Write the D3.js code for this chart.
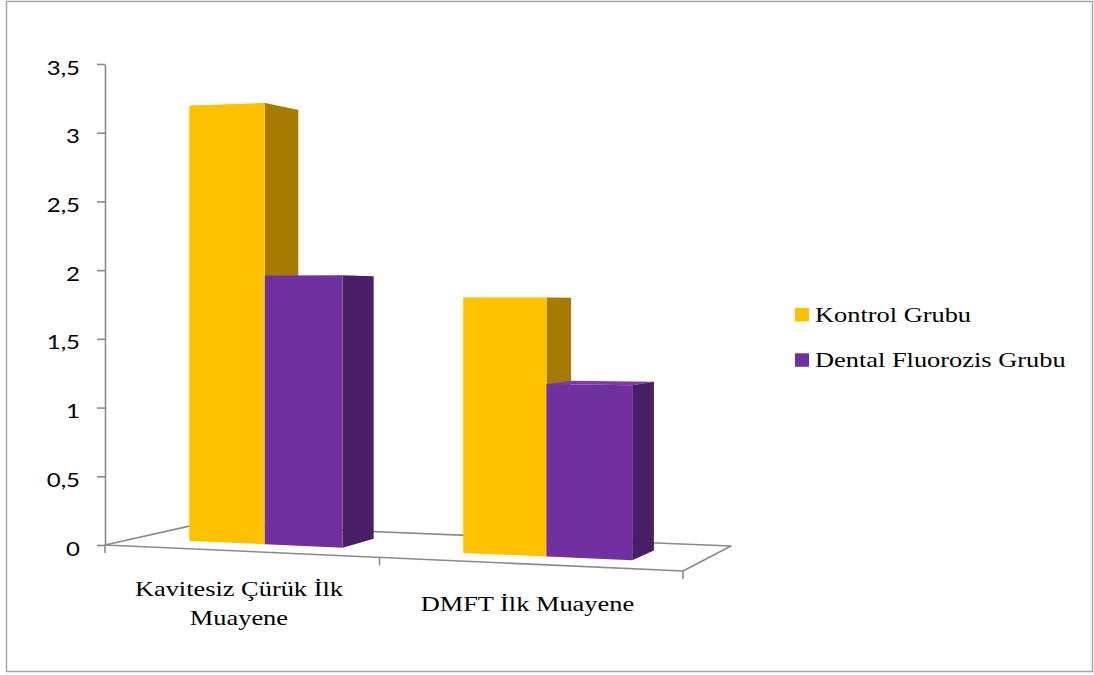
<!DOCTYPE html>
<html>
<head>
<meta charset="utf-8">
<script src="https://cdn.jsdelivr.net/npm/d3@7"></script>
<style>
  body { margin: 0; background: #ffffff; }
  svg { display: block; }
</style>
</head>
<body>
<svg id="chart" width="1094" height="675"></svg>
<script>
// ---- data ----
const categories = ["Kavitesiz Çürük İlk Muayene", "DMFT İlk Muayene"];
const categoryLines = [["Kavitesiz Çürük İlk", "Muayene"], ["DMFT İlk Muayene"]];
const seriesNames = ["Kontrol Grubu", "Dental Fluorozis Grubu"];
const kontrolValues = [3.22, 1.80];
const fluorozisValues = [1.96, 1.20];
const yTickValues = [0, 0.5, 1, 1.5, 2, 2.5, 3, 3.5];
const yTickLabels = ["0", "0,5", "1", "1,5", "2", "2,5", "3", "3,5"];

// ---- styling ----
const frontColors = ["#FFC000", "#7030A0"];
const sideColors = ["#A67C00", "#481F67"];
const topColors = ["#FFCB33", "#7B3AAD"];
const axisColor = "#8A8A8A";
const stretchX = 1.2;

// ---- perspective setup (two-point perspective, verticals stay vertical) ----
const HORIZON = 298;
const FL = [105, 545], FR = [683, 571], BR = [731, 546.04], BL = [197.04, 524.39];
const topFactor = (545 - 64) / (545 - HORIZON);
const barDepth = [0.295, 0.70];

function squareToQuad(p0, p1, p2, p3) {
  const dx1 = p1[0] - p2[0], dx2 = p3[0] - p2[0], dx3 = p0[0] - p1[0] + p2[0] - p3[0];
  const dy1 = p1[1] - p2[1], dy2 = p3[1] - p2[1], dy3 = p0[1] - p1[1] + p2[1] - p3[1];
  const den = dx1 * dy2 - dx2 * dy1;
  const g = (dx3 * dy2 - dx2 * dy3) / den, h = (dx1 * dy3 - dx3 * dy1) / den;
  const a = p1[0] - p0[0] + g * p1[0], b = p3[0] - p0[0] + h * p3[0], c = p0[0];
  const d = p1[1] - p0[1] + g * p1[1], e = p3[1] - p0[1] + h * p3[1], f = p0[1];
  return (u, w) => {
    const s = g * u + h * w + 1;
    return [(a * u + b * w + c) / s, (d * u + e * w + f) / s];
  };
}
const floorPt = squareToQuad(FL, FR, BR, BL);

const heightFrac = d3.scaleLinear().domain([0, 3.5]).range([0, topFactor]);
function project(u, w, v) {
  const [x, y] = floorPt(u, w);
  return [x, y - (y - HORIZON) * heightFrac(v)];
}

// category / series scales along the floor's width (0..1)
const x0 = d3.scaleBand().domain(categories).range([0, 1]).paddingInner(3 / 7).paddingOuter(1.5 / 7);
const x1 = d3.scaleBand().domain(seriesNames).range([0, x0.bandwidth()]);

const yAxisScale = d3.scaleLinear().domain([0, 3.5])
  .range([FL[1], FL[1] - (FL[1] - HORIZON) * topFactor]);

const svg = d3.select("#chart");
const poly = pts => "M" + pts.map(p => p[0].toFixed(2) + "," + p[1].toFixed(2)).join("L") + "Z";

// outer frame
svg.append("rect")
  .attr("x", 6.5).attr("y", 1.5).attr("width", 1086).attr("height", 670)
  .attr("fill", "#fff").attr("stroke", "#A6A6A6").attr("stroke-width", 1.5);

// floor
svg.append("path")
  .attr("d", poly([floorPt(0, 0), floorPt(1, 0), floorPt(1, 1), floorPt(0, 1)]))
  .attr("fill", "#fff").attr("stroke", axisColor).attr("stroke-width", 1.6)
  .attr("stroke-linejoin", "round");

// category axis tick marks along the front edge (category boundaries)
const boundaryU = [0].concat(categories.map((c, i) => (i + 1) * x0.step()));
svg.append("g").selectAll("line").data(boundaryU).join("line")
  .attr("x1", u => floorPt(u, 0)[0]).attr("x2", u => floorPt(u, 0)[0])
  .attr("y1", u => floorPt(u, 0)[1]).attr("y2", u => floorPt(u, 0)[1] + 8)
  .attr("stroke", axisColor).attr("stroke-width", 1.6);

// value axis
const yAxis = d3.axisLeft(yAxisScale)
  .tickValues(yTickValues)
  .tickFormat((d, i) => yTickLabels[i])
  .tickSize(8).tickSizeOuter(0).tickPadding(17);
const gy = svg.append("g").attr("transform", `translate(${FL[0]},0)`).call(yAxis);
gy.select(".domain").attr("stroke", axisColor).attr("stroke-width", 1.6);
gy.selectAll(".tick line").attr("stroke", axisColor).attr("stroke-width", 1.6);
gy.selectAll(".tick text")
  .attr("fill", "#000")
  .style("font-family", "Lato, 'Open Sans', sans-serif")
  .style("font-size", "20px")
  .attr("dy", "0.5em")
  .each(function () {
    const t = d3.select(this);
    const x = +t.attr("x");
    t.attr("x", 0).attr("transform", `translate(${x},0) scale(${stretchX},1)`);
  });

// bars, drawn left to right so nearer right-hand bars cover the sides of those before them
const seriesValues = [kontrolValues, fluorozisValues];
const bars = [];
categories.forEach((c, ci) => {
  seriesNames.forEach((s, si) => {
    const u0 = x0(c) + x1(s), u1 = u0 + x1.bandwidth();
    bars.push({ u0, u1, v: seriesValues[si][ci], si });
  });
});
bars.sort((a, b) => a.u0 - b.u0);

const [w0, w1] = barDepth;
const gb = svg.append("g");
bars.forEach(b => {
  const g = gb.append("g");
  g.append("path")
    .attr("d", poly([project(b.u0, w0, b.v), project(b.u1, w0, b.v), project(b.u1, w1, b.v), project(b.u0, w1, b.v)]))
    .attr("fill", topColors[b.si]);
  g.append("path")
    .attr("d", poly([project(b.u1, w0, 0), project(b.u1, w1, 0), project(b.u1, w1, b.v), project(b.u1, w0, b.v)]))
    .attr("fill", sideColors[b.si]);
  g.append("path")
    .attr("d", poly([project(b.u0, w0, 0), project(b.u1, w0, 0), project(b.u1, w0, b.v), project(b.u0, w0, b.v)]))
    .attr("fill", frontColors[b.si]);
});

// category labels
const labelCenterY = 603, lineHeight = 29;
categories.forEach((c, ci) => {
  const cx = floorPt(x0(c) + x0.bandwidth() / 2, 0)[0];
  const lines = categoryLines[ci];
  lines.forEach((ln, li) => {
    const by = labelCenterY + (li - (lines.length - 1) / 2) * lineHeight + 7.5;
    svg.append("text")
      .attr("transform", `translate(${cx},${by}) scale(${stretchX},1)`)
      .attr("text-anchor", "middle")
      .style("font-family", "'Liberation Serif', 'Times New Roman', serif")
      .style("font-size", "22px")
      .attr("fill", "#000")
      .text(ln);
  });
});

// legend
const legend = svg.append("g");
seriesNames.forEach((s, i) => {
  const y = 322 + i * 45.3;
  legend.append("rect")
    .attr("x", 795).attr("y", y - 14).attr("width", 14).attr("height", 13.5)
    .attr("fill", frontColors[i]);
  legend.append("text")
    .attr("transform", `translate(815,${y}) scale(${stretchX},1)`)
    .style("font-family", "'Liberation Serif', 'Times New Roman', serif")
    .style("font-size", "22px")
    .attr("fill", "#000")
    .text(s);
});
</script>
</body>
</html>
